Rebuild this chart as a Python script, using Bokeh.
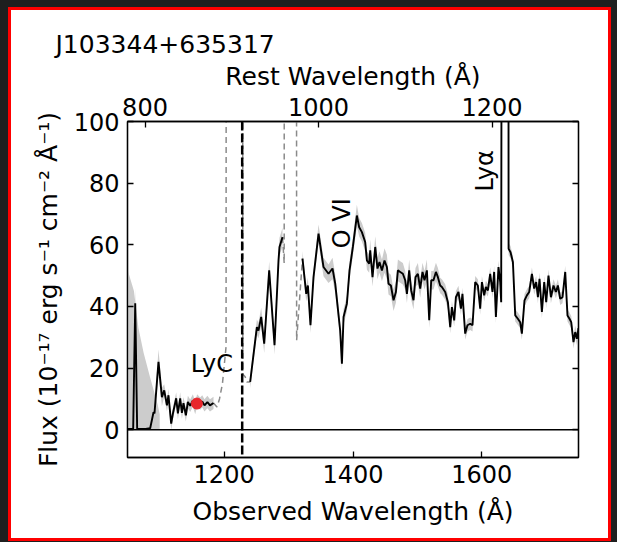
import numpy as np
from bokeh.plotting import figure
from bokeh.models import LinearAxis, Range1d, FixedTicker, Span, ColumnDataSource
from bokeh.embed import file_html
from bokeh.resources import INLINE
from bokeh.core.properties import value

FONT = "DejaVu Sans"

# ---------------- data ----------------
z = 0.3465
lyc_rest = 912.0
obs_range = (1050, 1750)
flux_range = (-9, 100)

x_ticks = [1200, 1400, 1600]
rest_ticks = [800, 1000, 1200]
y_ticks = [0, 20, 40, 60, 80, 100]

# observed spectrum (black), three pieces separated by masked regions
wave = [
    1050.0, 1058.8, 1062.0, 1065.0, 1072.0, 1078.0, 1085.2, 1090.4, 1091.9, 1098.1,
    1103.4, 1107.0, 1111.2, 1113.6, 1117.8, 1120.9, 1125.6, 1128.2, 1131.8, 1134.4,
    1136.9, 1140.6, 1143.7, 1147.3, 1151.5, 1155.1, 1158.0, 1162.8, 1166.0, 1169.5,
    1174.0, 1178.0, 1183.5,
    1240.4, 1250.8, 1253.3, 1257.5, 1262.2, 1269.9, 1278.2, 1284.4, 1285.9, 1290.6,
    1321.6, 1327.4, 1330.0, 1334.0, 1338.7, 1346.5, 1354.2, 1362.0, 1368.2, 1372.4,
    1380.1, 1382.8, 1385.3, 1390.5, 1394.6, 1399.8, 1406.0, 1409.6, 1413.8, 1418.9,
    1421.6, 1425.1, 1426.7, 1430.3, 1434.5, 1438.0, 1441.1, 1444.9, 1448.9, 1452.6,
    1455.1, 1458.8, 1462.9, 1466.6, 1469.7, 1473.3, 1477.4, 1481.0, 1483.7, 1487.2,
    1490.3, 1493.9, 1497.0, 1500.7, 1504.3, 1507.9, 1511.0, 1514.7, 1518.3, 1521.4,
    1524.9, 1528.7, 1531.8, 1535.3, 1538.0, 1543.1, 1547.3, 1550.9, 1553.5, 1557.1,
    1559.7, 1563.7, 1567.5, 1569.9, 1574.1, 1577.7, 1581.9, 1585.5, 1589.7, 1593.8,
    1597.4, 1600.1, 1603.6, 1606.3, 1609.4, 1612.9, 1616.5, 1619.1, 1621.8, 1625.8,
    1628.5, 1630.0, 1633.5, 1636.5, 1640.0, 1641.5, 1644.5, 1648.2, 1651.8, 1655.9,
    1659.5, 1662.1, 1666.2, 1669.9, 1673.5, 1677.7, 1681.2, 1684.3, 1687.0, 1689.5,
    1693.2, 1696.8, 1699.9, 1703.4, 1707.2, 1711.2, 1714.9, 1718.0, 1721.6, 1725.2,
    1729.4, 1732.9, 1736.0, 1738.7, 1742.2, 1744.9, 1747.5, 1750.0,
]
flux = [
    0.3, 0.3, 41.0, 0.3, 0.3, 0.3, 0.5, 5.7, 5.3, 22.0,
    10.6, 12.8, 7.9, 11.2, 2.0, 5.7, 10.2, 5.3, 10.2, 5.5,
    8.6, 4.7, 9.0, 7.8, 9.5, 7.0, 9.5, 8.5, 9.2, 7.9,
    9.0, 7.9, 8.7,
    15.5, 33.3, 32.2, 36.6, 27.9, 51.7, 27.4, 55.0, 59.3, 62.5,
    55.5, 44.1, 46.8, 33.9, 49.5, 63.6, 52.8, 50.6, 52.3, 47.4,
    32.2, 21.4, 36.6, 40.9, 51.7, 59.3, 69.5, 65.7, 64.1, 60.9,
    54.9, 53.9, 58.2, 49.5, 59.3, 52.3, 54.4, 51.7, 54.9, 52.8,
    47.4, 46.8, 42.0, 44.7, 51.7, 51.2, 50.6, 48.5, 44.1, 51.7,
    45.2, 42.0, 49.5, 50.6, 45.8, 51.2, 48.5, 51.7, 35.5, 48.5,
    48.5, 51.2, 49.5, 46.8, 46.3, 44.7, 41.4, 33.3, 39.8, 35.5,
    43.0, 44.7, 39.3, 44.1, 31.2, 33.9, 34.4, 33.9, 47.9, 46.8,
    39.3, 47.9, 43.6, 46.3, 45.2, 50.6, 44.7, 51.2, 36.6, 52.8,
    47.9, 41.4, 600.0, 900.0, 600.0, 58.7, 57.6, 54.4, 37.1, 36.0,
    34.9, 31.2, 42.0, 43.6, 44.7, 50.6, 45.8, 47.9, 43.0, 49.0,
    38.2, 47.9, 41.4, 50.0, 43.0, 46.8, 44.7, 46.8, 42.5, 43.0,
    51.2, 37.1, 36.0, 34.9, 28.4, 31.7, 29.5, 33.0,
]
err = [
    1.5, 1.5, 5.0, 1.5, 1.5, 1.5, 1.5, 2.0, 2.0, 4.0,
    3.0, 2.0, 2.0, 2.0, 2.0, 2.0, 2.0, 2.0, 2.0, 2.0,
    2.0, 2.0, 2.0, 2.0, 2.0, 2.0, 2.0, 2.0, 2.0, 2.0,
    2.0, 2.0, 2.0,
    2.0, 2.5, 2.5, 3.0, 3.0, 3.0, 3.0, 3.0, 3.0, 3.0,
    2.5, 2.5, 2.5, 2.5, 2.5, 3.0, 3.0, 3.0, 3.5, 3.0,
    2.5, 2.0, 2.5, 2.5, 3.0, 3.0, 3.5, 3.0, 3.0, 3.0,
    3.0, 3.0, 3.5, 3.0, 3.5, 3.5, 3.5, 3.5, 4.0, 4.0,
    3.5, 3.5, 3.5, 3.5, 3.5, 3.5, 3.5, 3.0, 3.0, 3.5,
    3.0, 3.0, 3.0, 3.5, 3.0, 3.0, 3.0, 3.5, 2.5, 3.0,
    3.0, 3.0, 3.0, 2.5, 2.5, 2.5, 2.5, 2.0, 2.0, 2.0,
    2.0, 2.0, 2.0, 2.0, 2.0, 2.0, 2.0, 2.0, 2.0, 2.0,
    2.0, 2.0, 2.0, 2.0, 2.0, 2.0, 2.0, 2.0, 2.0, 2.0,
    2.0, 2.0, 5.0, 5.0, 5.0, 2.0, 2.0, 2.0, 2.0, 2.0,
    2.0, 2.0, 2.0, 2.0, 2.0, 2.0, 2.0, 2.0, 2.0, 2.0,
    2.0, 2.0, 2.0, 2.0, 2.0, 2.0, 2.0, 2.0, 2.0, 2.0,
    2.0, 2.0, 2.0, 2.0, 2.0, 2.0, 2.0, 2.0,
]

# masked spectrum around geocoronal lines (grey dashed)
mask_wave = [
    1183.5, 1188.8, 1192.8, 1197.4, 1203.0, 1206.0, 1226.5, 1229.0, 1232.6, 1235.3, 1240.4,
    1290.6, 1293.2, 1295.2, 1309.5, 1312.5, 1321.6,
]
mask_flux = [
    8.7, 7.4, 10.0, 15.0, 27.0, 2000.0, 2000.0, 18.0, 17.2, 15.5, 15.5,
    62.5, 54.0, 2000.0, 2000.0, 29.0, 55.5,
]

# large uncertainty at the blue edge of the spectrum
edge_wave = [1050, 1060, 1067, 1075, 1085, 1093, 1097, 1100]
edge_hi = [52, 45, 33, 25, 17, 11, 8, 5]

# LyC flux measurement
lyc_point_wave = [1157.7]
lyc_point_flux = [8.5]

# line labels
label_text = ["LyC", "O VI", "Lyα"]
label_wave = [1181.0, 1382.5, 1605.0]
label_flux = [21.2, 67.0, 84.0]
label_angle_deg = [0, 90, 90]


def pieces(w, gap=25.0):
    w = np.asarray(w)
    cut = np.where(np.diff(w) > gap)[0] + 1
    return np.split(np.arange(len(w)), cut)


wave_a = np.asarray(wave)
flux_a = np.asarray(flux)
err_a = np.asarray(err)

# ---------------- figure ----------------
p = figure(
    frame_width=451, frame_height=336,
    x_range=Range1d(*obs_range), y_range=Range1d(*flux_range),
    output_backend="svg", toolbar_location=None,
    min_border_left=116, min_border_right=30, min_border_top=111, min_border_bottom=81,
    background_fill_color="white", border_fill_color="white",
    outline_line_color="black", outline_line_width=1.3,
)
p.grid.visible = False
p.extra_x_ranges = {"rest": Range1d(obs_range[0] / (1 + z), obs_range[1] / (1 + z))}

p.title.text = "J103344+635317"
p.title.align = "left"
p.title.offset = -72
p.title.text_font = FONT
p.title.text_font_size = "25px"
p.title.text_font_style = "normal"
p.title.text_color = "black"
p.title.standoff = 0


def style(ax):
    ax.axis_line_color = "black"
    ax.axis_line_width = 1.3
    ax.major_tick_in = 6
    ax.major_tick_out = 0
    ax.major_tick_line_width = 1.3
    ax.major_tick_line_color = "black"
    ax.minor_tick_in = 0
    ax.minor_tick_out = 0
    ax.major_label_text_font = FONT
    ax.major_label_text_font_size = "24px"
    ax.major_label_text_color = "black"
    ax.axis_label_text_font = FONT
    ax.axis_label_text_font_size = "25px"
    ax.axis_label_text_font_style = "normal"
    ax.axis_label_text_color = "black"


bottom = p.xaxis[0]
bottom.ticker = FixedTicker(ticks=x_ticks)
bottom.axis_label = "Observed Wavelength (Å)"
bottom.major_label_standoff = 7
bottom.axis_label_standoff = 11
style(bottom)

left = p.yaxis[0]
left.ticker = FixedTicker(ticks=y_ticks)
left.axis_label = "Flux (10⁻¹⁷ erg s⁻¹ cm⁻² Å⁻¹)"
left.major_label_standoff = 8
left.axis_label_standoff = 8
style(left)

top = LinearAxis(x_range_name="rest", ticker=FixedTicker(ticks=rest_ticks),
                 axis_label="Rest Wavelength (Å)")
style(top)
top.major_label_standoff = 6
top.axis_label_standoff = 4
p.add_layout(top, "above")

right = LinearAxis(ticker=FixedTicker(ticks=y_ticks))
style(right)
right.major_label_text_font_size = "1px"
right.major_label_text_color = None
right.major_label_text_alpha = 0
right.major_label_standoff = 0
p.add_layout(right, "right")

# blue-edge uncertainty wedge
p.varea(x=edge_wave, y1=[0] * len(edge_wave), y2=edge_hi, fill_color="#cccccc")

# error band + spectrum
for idx in pieces(wave_a):
    w = wave_a[idx]
    f = flux_a[idx]
    e = err_a[idx]
    p.varea(x=w, y1=np.clip(f - e, 0, None), y2=f + e, fill_color="#cccccc")
for idx in pieces(np.asarray(mask_wave)):
    p.line(np.asarray(mask_wave)[idx], np.asarray(mask_flux)[idx],
           line_color="#8a8a8a", line_width=1.5, line_dash="6 4")
for idx in pieces(wave_a):
    p.line(wave_a[idx], flux_a[idx], line_color="black", line_width=1.9)

p.add_layout(Span(location=0, dimension="width", line_color="black", line_width=1.5))
p.add_layout(Span(location=lyc_rest * (1 + z), dimension="height", line_color="black",
                  line_width=2.5, line_dash="9 3"))

p.scatter(x=lyc_point_wave, y=lyc_point_flux, size=11, fill_color="#e8262b",
          line_color="#e8262b")

src = ColumnDataSource(dict(x=label_wave, y=label_flux, text=label_text,
                            angle=[np.deg2rad(a) for a in label_angle_deg]))
p.text(x="x", y="y", text="text", angle="angle", source=src,
       text_font=value(FONT), text_font_size="24px", text_color="black",
       text_align="center", text_baseline="middle")

p.margin = (10, 0, 0, 11)
p.styles = {"box-shadow": "0 0 0 3px #ff0000, 0 0 0 80px #1f1f1f"}

open("out.html", "w").write(file_html(p, INLINE))
